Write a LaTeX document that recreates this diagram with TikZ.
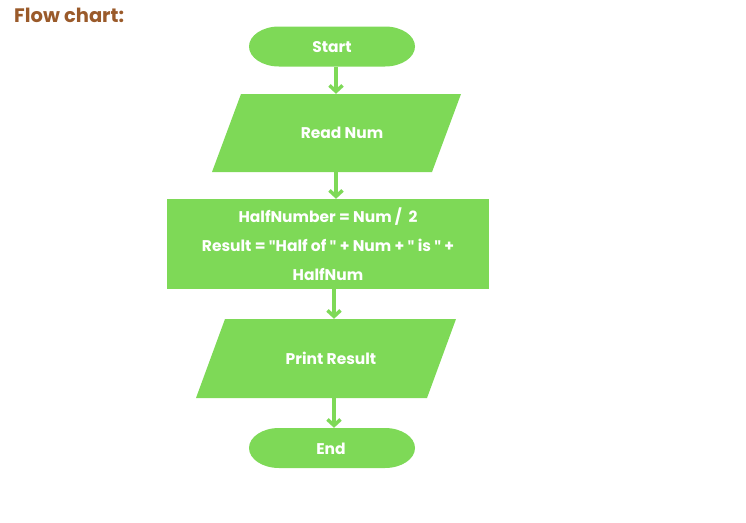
\documentclass[tikz,border=0pt]{standalone}
\usepackage{fontspec}
\setmainfont{Poppins}
\newfontfamily\qfont{Fira Sans}
\usetikzlibrary{arrows.meta}
\definecolor{fcgreen}{HTML}{7ED957}
\definecolor{fcbrown}{HTML}{9A5A2A}
\newcommand{\dq}{{\qfont\bfseries\symbol{34}}}
\tikzset{
  shapefill/.style={fill=fcgreen},
  lbl/.style={text=white, font=\fontsize{15.5}{18}\selectfont\bfseries, inner sep=0pt},
  arr/.style={draw=fcgreen, line width=3.5pt,
    -{Straight Barb[length=6pt,width=13pt,line width=3.5pt]}},
}
\begin{document}
\begin{tikzpicture}[x=1pt,y=1pt]
\useasboundingbox (0,0) rectangle (746,-522);
% title
\node[anchor=base west, inner sep=0pt, text=fcbrown, font=\fontsize{19.5}{22}\selectfont\bfseries] (title) at (14,-22) {Flow chart:};
% start terminal
\fill[shapefill] (279,-26.5) -- (385,-26.5) arc[start angle=90,end angle=-90,x radius=30,y radius=20] -- (279,-66.5) arc[start angle=270,end angle=90,x radius=30,y radius=20] -- cycle;
\node[lbl, minimum width=166, minimum height=40] (start) at (332,-47.5) {Start};
% read input
\fill[shapefill] (241,-94) -- (461,-94) -- (432,-172) -- (212,-172) -- cycle;
\node[lbl, minimum height=78] (read) at (342,-133) {Read Num};
% process
\node[lbl, fill=fcgreen, minimum width=322, minimum height=90, align=center,
  font=\fontsize{15.5}{29}\selectfont\bfseries] (proc) at (328,-244)
  {HalfNumber = Num /\ \ 2\\Result = \dq Half of \dq\ + Num + \dq\ is \dq\ +\\HalfNum};
% print
\fill[shapefill] (225,-319) -- (456,-319) -- (427,-398) -- (196,-398) -- cycle;
\node[lbl, minimum height=79] (print) at (331,-358.5) {Print Result};
% end terminal
\fill[shapefill] (279,-428) -- (385,-428) arc[start angle=90,end angle=-90,x radius=30,y radius=20] -- (279,-468) arc[start angle=270,end angle=90,x radius=30,y radius=20] -- cycle;
\node[lbl, minimum width=166, minimum height=40] (end) at (331,-449) {End};
% connectors
\coordinate (ax1) at (336,0);
\coordinate (ax2) at (334,0);
\draw[arr] ([yshift=1pt]start.south -| ax1) -- (read.north -| ax1);
\draw[arr] (read.south -| ax1) -- (proc.north -| ax1);
\draw[arr] (proc.south -| ax2) -- (print.north -| ax2);
\draw[arr] (print.south -| ax2) -- ([yshift=1pt]end.north -| ax2);
\end{tikzpicture}
\end{document}
